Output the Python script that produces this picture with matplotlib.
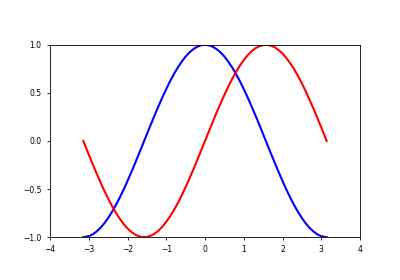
from matplotlib import pyplot as plt

# values
x = [-3.14, -3.0, -2.9, -2.8, -2.7, -2.6, -2.5, -2.4, -2.3, -2.2, -2.1,
     -2.0, -1.9, -1.8, -1.7, -1.6, -1.5, -1.4, -1.3, -1.2, -1.1,
     -1.0, -0.9, -0.8, -0.7, -0.6, -0.5, -0.4, -0.3, -0.2, -0.1,
     0.0, 0.1, 0.2, 0.3, 0.4, 0.5, 0.6, 0.7, 0.8, 0.9,
     1.0, 1.1, 1.2, 1.3, 1.4, 1.5, 1.6, 1.7, 1.8, 1.9,
     2.0, 2.1, 2.2, 2.3, 2.4, 2.5, 2.6, 2.7, 2.8, 2.9, 3.0, 3.14]
blue = [-1.000, -0.990, -0.971, -0.942, -0.904, -0.857, -0.801, -0.737, -0.666, -0.589, -0.505,
        -0.416, -0.323, -0.227, -0.129, -0.029, 0.071, 0.170, 0.267, 0.362, 0.454,
        0.540, 0.622, 0.697, 0.765, 0.825, 0.878, 0.921, 0.955, 0.980, 0.995,
        1.000, 0.995, 0.980, 0.955, 0.921, 0.878, 0.825, 0.765, 0.697, 0.622,
        0.540, 0.454, 0.362, 0.267, 0.170, 0.071, -0.029, -0.129, -0.227, -0.323,
        -0.416, -0.505, -0.589, -0.666, -0.737, -0.801, -0.857, -0.904, -0.942, -0.971, -0.990, -1.000]
red = [0.000, -0.141, -0.239, -0.335, -0.427, -0.516, -0.598, -0.675, -0.746, -0.808, -0.863,
       -0.909, -0.946, -0.974, -0.992, -1.000, -0.997, -0.985, -0.964, -0.932, -0.891,
       -0.841, -0.783, -0.717, -0.644, -0.565, -0.479, -0.389, -0.296, -0.199, -0.100,
       0.000, 0.100, 0.199, 0.296, 0.389, 0.479, 0.565, 0.644, 0.717, 0.783,
       0.841, 0.891, 0.932, 0.964, 0.985, 0.997, 1.000, 0.992, 0.974, 0.946,
       0.909, 0.863, 0.808, 0.746, 0.675, 0.598, 0.516, 0.427, 0.335, 0.239, 0.141, 0.000]
xticks = [-4, -3, -2, -1, 0, 1, 2, 3, 4]
yticks = [-1.0, -0.5, 0.0, 0.5, 1.0]

fig = plt.figure(figsize=(4, 2.8), dpi=100)
ax = fig.add_subplot(111)
fig.subplots_adjust(left=0.125, right=0.9, top=0.84, bottom=0.153)

ax.plot(x, blue, color='blue', linewidth=1.5)
ax.plot(x, red, color='red', linewidth=1.5)

ax.set_xlim(-4, 4)
ax.set_ylim(-1, 1)
ax.set_xticks(xticks)
ax.set_yticks(yticks)
ax.tick_params(labelsize=5.5, length=2.5, width=0.6)
for s in ax.spines.values():
    s.set_linewidth(0.6)

fig.savefig('out.png')
